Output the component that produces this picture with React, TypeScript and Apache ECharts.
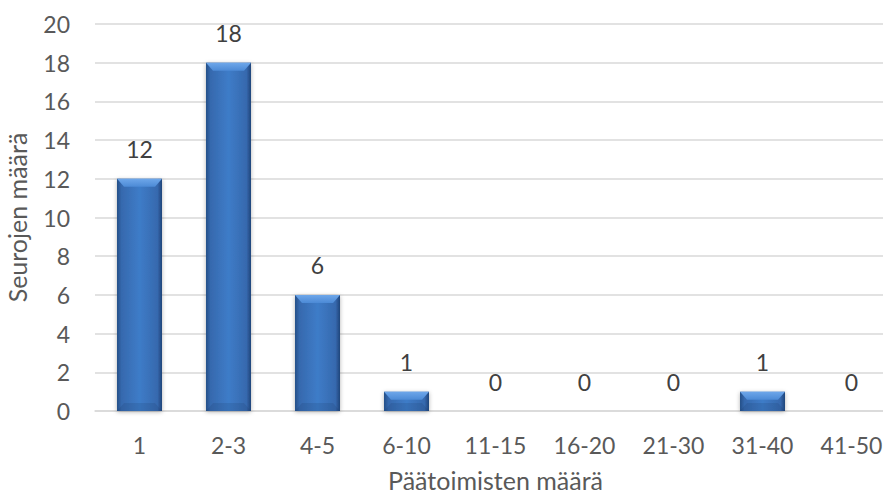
import React, { useEffect, useRef } from "react";
import * as echarts from "echarts";

const categories = ["1", "2-3", "4-5", "6-10", "11-15", "16-20", "21-30", "31-40", "41-50"];
const counts = [12, 18, 6, 1, 0, 0, 0, 1, 0];
const yAxisTitle = "Seurojen määrä";
const xAxisTitle = "Päätoimisten määrä";

export default function App() {
  const ref = useRef<HTMLDivElement>(null);
  useEffect(() => {
    if (!ref.current) return;
    const chart = echarts.init(ref.current, undefined, { renderer: "svg" });
    const font = "Lato, 'Open Sans', sans-serif";
    const BAR_W = 45;
    chart.setOption({
      animation: false,
      grid: {
        left: 95,
        right: 0,
        top: 24,
        bottom: 84,
        containLabel: false,
        outerBoundsMode: "none",
      },
      xAxis: {
        type: "category",
        data: categories,
        name: xAxisTitle,
        nameLocation: "middle",
        nameGap: 56,
        nameTextStyle: { fontFamily: font, fontSize: 25, lineHeight: 26, color: "#595959" },
        axisLine: { lineStyle: { color: "#d9d9d9", width: 1.5 } },
        axisTick: { show: false },
        axisLabel: { fontFamily: font, fontSize: 23, color: "#595959", margin: 22 },
      },
      yAxis: {
        type: "value",
        min: 0,
        max: 20,
        interval: 2,
        name: yAxisTitle,
        nameLocation: "middle",
        nameGap: 66,
        nameTextStyle: { fontFamily: font, fontSize: 25, color: "#595959" },
        axisLine: { show: false },
        axisTick: { show: false },
        axisLabel: { fontFamily: font, fontSize: 23, color: "#595959", margin: 25 },
        splitLine: { lineStyle: { color: "#d9d9d9", width: 1.5 } },
      },
      series: [
        {
          type: "bar",
          data: counts,
          barWidth: BAR_W,
          z: 2,
          itemStyle: {
            color: new echarts.graphic.LinearGradient(0, 0, 1, 0, [
              { offset: 0, color: "#264f88" },
              { offset: 0.1, color: "#3669ae" },
              { offset: 0.5, color: "#3e7cc8" },
              { offset: 0.9, color: "#3669ae" },
              { offset: 1, color: "#21457a" },
            ]),
            shadowColor: "rgba(0,0,0,0.3)",
            shadowBlur: 4,
            shadowOffsetY: 1,
          },
          label: {
            show: true,
            position: "top",
            distance: 18,
            fontFamily: font,
            fontSize: 23,
            color: "#404040",
          },
        },
        {
          type: "custom",
          silent: true,
          z: 3,
          data: categories.map((c, i) => [i, counts[i]]),
          renderItem: (params: any, api: any) => {
            const v = api.value(1);
            if (!v) return { type: "group", children: [] };
            const top = api.coord([api.value(0), v]);
            const base = api.coord([api.value(0), 0]);
            const x0 = top[0] - BAR_W / 2;
            const x1 = top[0] + BAR_W / 2;
            const h = Math.min(8, (base[1] - top[1]) / 2);
            const inset = 7;
            return {
              type: "group",
              children: [
                {
                  type: "polygon",
                  shape: {
                    points: [
                      [x0, top[1]],
                      [x1, top[1]],
                      [x1 - inset, top[1] + h],
                      [x0 + inset, top[1] + h],
                    ],
                  },
                  style: {
                    fill: new echarts.graphic.LinearGradient(0, 0, 0, 1, [
                      { offset: 0, color: "#6ea7ea" },
                      { offset: 1, color: "#4c8ad6" },
                    ]),
                  },
                },
                {
                  type: "polygon",
                  shape: {
                    points: [
                      [x0, base[1]],
                      [x1, base[1]],
                      [x1 - inset, base[1] - h],
                      [x0 + inset, base[1] - h],
                    ],
                  },
                  style: { fill: "rgba(20,45,90,0.15)" },
                },
              ],
            };
          },
        },
      ],
    });
    return () => chart.dispose();
  }, []);
  return (
    <div
      style={{
        position: "fixed",
        left: 0,
        top: 0,
        width: 883,
        height: 495,
        overflow: "hidden",
        background: "#fff",
      }}
    >
      <div ref={ref} style={{ width: 896, height: 495 }} />
    </div>
  );
}
